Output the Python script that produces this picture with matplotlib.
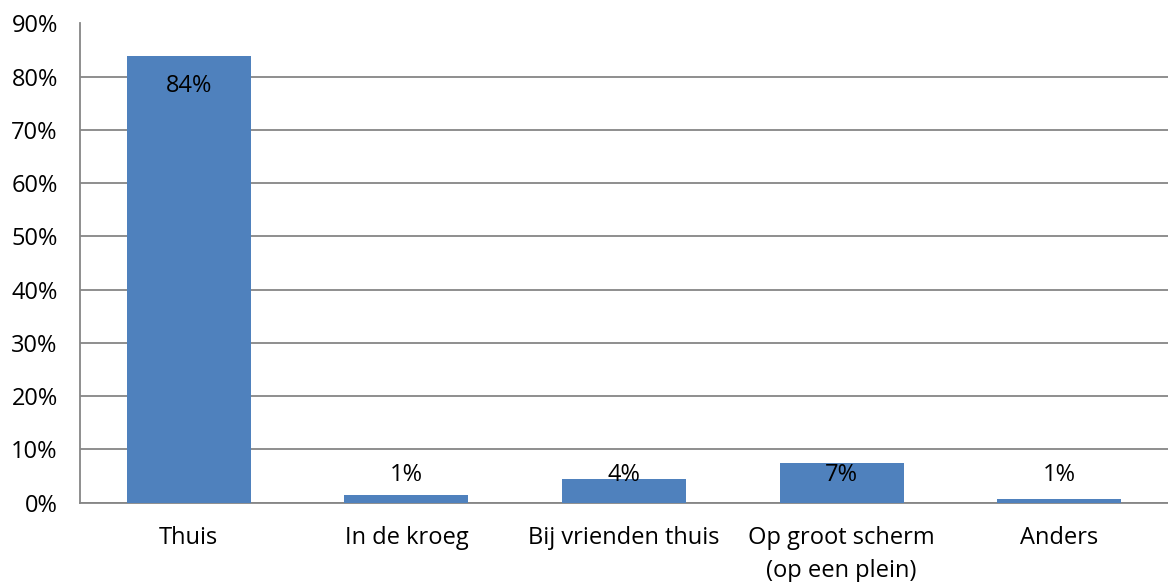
import matplotlib
matplotlib.use("Agg")
import matplotlib.pyplot as plt
from matplotlib.ticker import PercentFormatter

categories = ["Thuis", "In de kroeg", "Bij vrienden thuis", "Op groot scherm\n(op een plein)", "Anders"]
values = [83.8, 1.5, 4.4, 7.4, 0.7]
labels = ["84%", "1%", "4%", "7%", "1%"]
label_y = [78.2, 5.1, 5.1, 5.1, 5.1]
yticks = list(range(0, 91, 10))

plt.rcParams['font.family'] = ['Open Sans', 'DejaVu Sans']
FS = 17

fig = plt.figure(figsize=(11.68, 5.82), dpi=100)
ax = fig.add_axes([80/1168, 1 - 502.5/582, 1 - 80/1168, (502.5 - 23.5)/582])

x = range(len(categories))
ax.bar(x, values, width=0.57, color="#4F81BD", zorder=3)
for xi, yl, lab in zip(x, label_y, labels):
    ax.text(xi, yl, lab, ha="center", va="center", fontsize=FS, color="black", zorder=4)

ax.set_xlim(-0.5, len(categories) - 0.5)
ax.set_ylim(0, 90)
ax.set_yticks(yticks)
ax.yaxis.set_major_formatter(PercentFormatter(decimals=0))
ax.set_xticks(list(x))
ax.set_xticklabels(categories, fontsize=FS, linespacing=1.5)
ax.tick_params(axis='y', labelsize=FS, length=0, pad=16)
ax.tick_params(axis='x', length=0, pad=17)
ax.grid(axis='y', color="#868686", linewidth=1.3, zorder=0)
for s in ["top", "right"]:
    ax.spines[s].set_visible(False)
for s in ["left", "bottom"]:
    ax.spines[s].set_color("#868686")
    ax.spines[s].set_linewidth(1.3)

fig.savefig("out.png", dpi=100)
